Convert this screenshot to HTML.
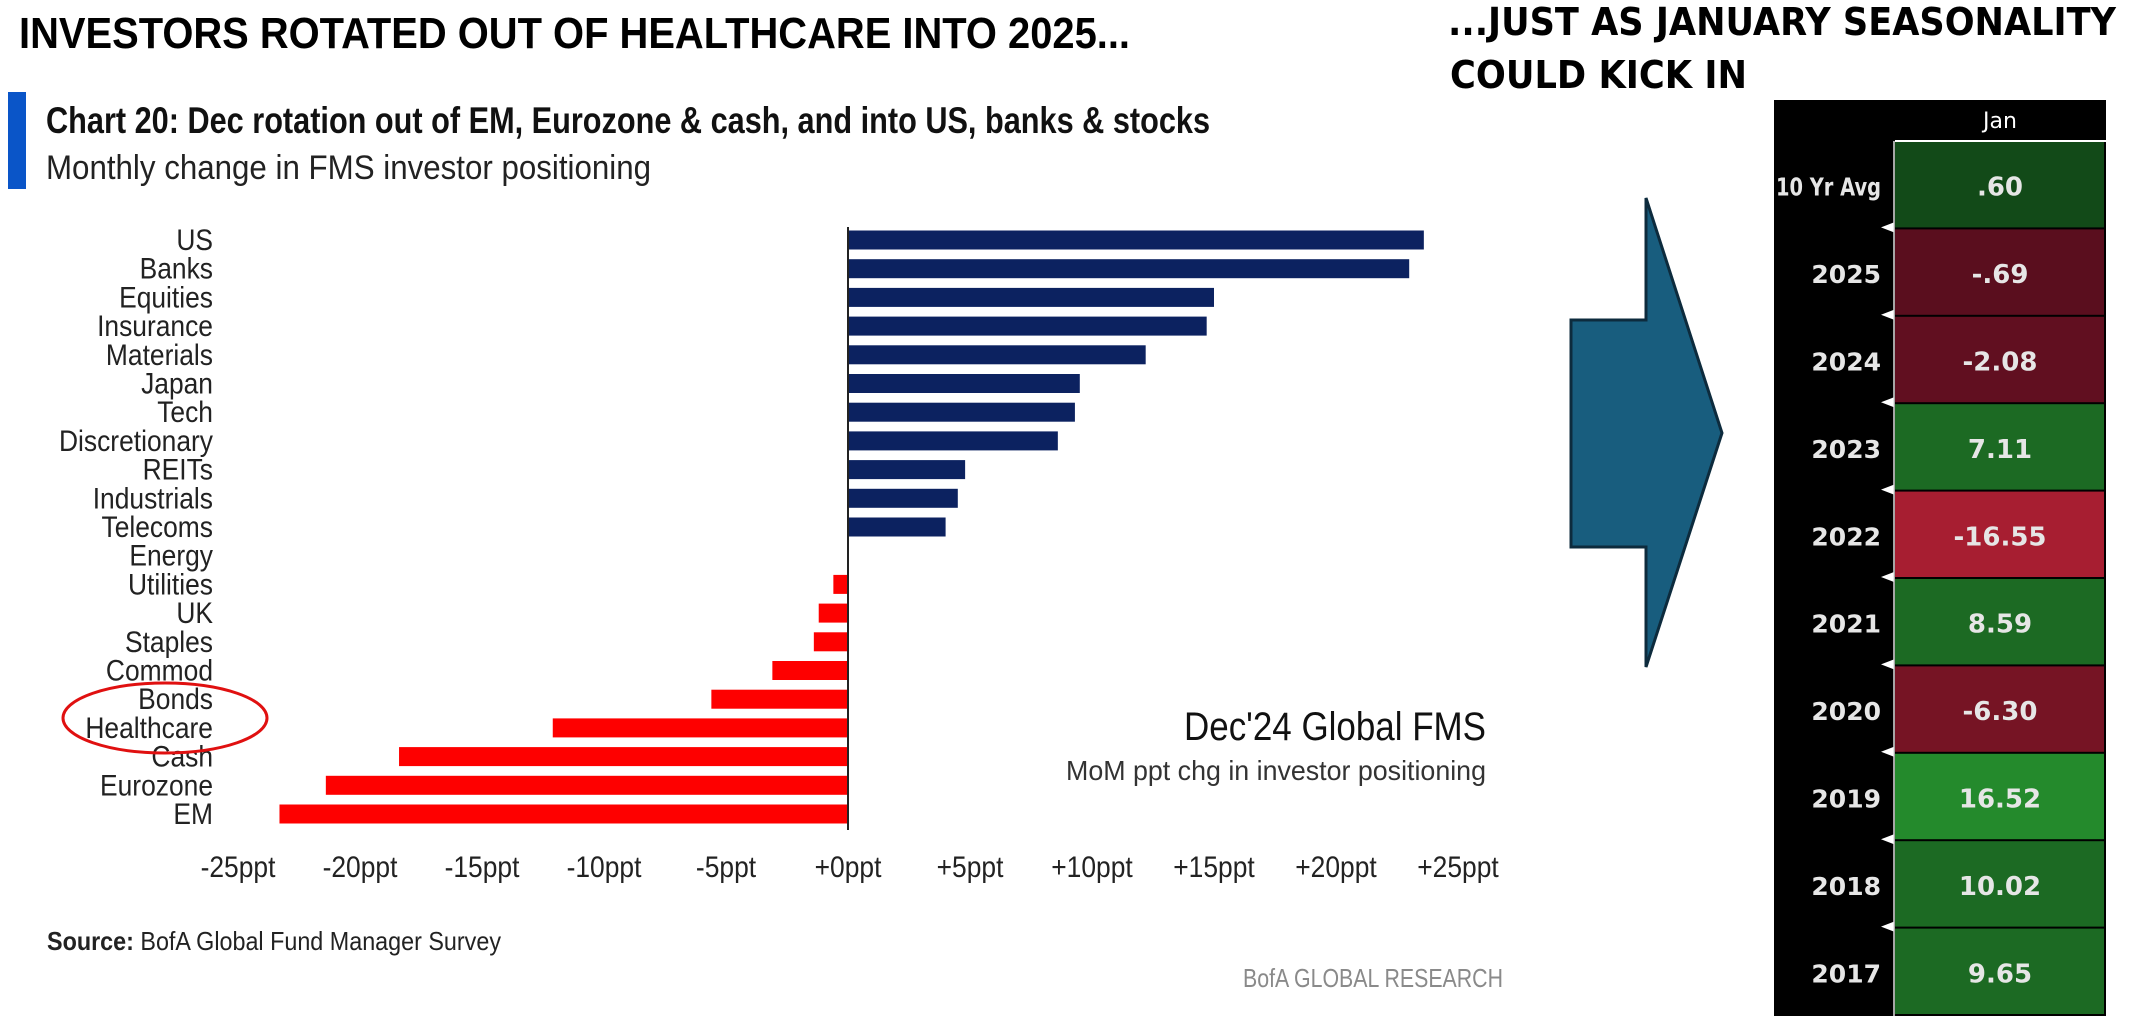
<!DOCTYPE html>
<html><head><meta charset="utf-8"><style>
html,body{margin:0;padding:0;background:#fff;width:2134px;height:1036px;overflow:hidden}
svg{display:block}
</style></head><body>
<svg id="s" width="2134" height="1036" viewBox="0 0 2134 1036" xmlns="http://www.w3.org/2000/svg">
<text x="19" y="48" font-family="Liberation Sans, sans-serif" font-weight="bold" font-size="44" textLength="1111" lengthAdjust="spacingAndGlyphs" fill="#000">INVESTORS ROTATED OUT OF HEALTHCARE INTO 2025...</text>
<text x="1448" y="35" font-family="DejaVu Sans, sans-serif" font-weight="bold" font-size="38" textLength="668" lengthAdjust="spacingAndGlyphs" fill="#000">...JUST AS JANUARY SEASONALITY</text>
<text x="1450" y="88" font-family="DejaVu Sans, sans-serif" font-weight="bold" font-size="38" textLength="297" lengthAdjust="spacingAndGlyphs" fill="#000">COULD KICK IN</text>
<rect x="8" y="92" width="18" height="97" fill="#0a55c8"/>
<text x="46" y="133" font-family="Liberation Sans, sans-serif" font-weight="bold" font-size="37" textLength="1164" lengthAdjust="spacingAndGlyphs" fill="#111">Chart 20: Dec rotation out of EM, Eurozone &amp; cash, and into US, banks &amp; stocks</text>
<text x="46" y="179" font-family="Liberation Sans, sans-serif" font-size="34" textLength="605" lengthAdjust="spacingAndGlyphs" fill="#222">Monthly change in FMS investor positioning</text>
<g id="chart"></g>
<ellipse cx="165" cy="718" rx="102" ry="35" fill="none" stroke="#e01010" stroke-width="3"/>
<text x="1486" y="740" text-anchor="end" font-family="Liberation Sans, sans-serif" font-size="40" textLength="302" lengthAdjust="spacingAndGlyphs" fill="#111">Dec'24 Global FMS</text>
<text x="1486" y="780" text-anchor="end" font-family="Liberation Sans, sans-serif" font-size="28" textLength="420" lengthAdjust="spacingAndGlyphs" fill="#333">MoM ppt chg in investor positioning</text>
<text x="47" y="950" font-family="Liberation Sans, sans-serif" font-size="26" textLength="454" lengthAdjust="spacingAndGlyphs" fill="#222"><tspan font-weight="bold">Source:</tspan> BofA Global Fund Manager Survey</text>
<text x="1503" y="987" text-anchor="end" font-family="Liberation Sans, sans-serif" font-size="26" textLength="260" lengthAdjust="spacingAndGlyphs" fill="#8a8a8a">BofA GLOBAL RESEARCH</text>
<polygon points="1571,320 1646,320 1646,198 1722,433 1646,667 1646,547 1571,547" fill="#185d7e" stroke="#0d2b3d" stroke-width="3"/>
<g id="table"></g>
</svg>
<script>
const categories = ["US","Banks","Equities","Insurance","Materials","Japan","Tech","Discretionary","REITs","Industrials","Telecoms","Energy","Utilities","UK","Staples","Commod","Bonds","Healthcare","Cash","Eurozone","EM"];
const values = [23.6,23.0,15.0,14.7,12.2,9.5,9.3,8.6,4.8,4.5,4.0,0,-0.6,-1.2,-1.4,-3.1,-5.6,-12.1,-18.4,-21.4,-23.3];
const ticks = [-25,-20,-15,-10,-5,0,5,10,15,20,25];
const tickLabels = ["-25ppt","-20ppt","-15ppt","-10ppt","-5ppt","+0ppt","+5ppt","+10ppt","+15ppt","+20ppt","+25ppt"];

const rowLabels = ["10 Yr Avg","2025","2024","2023","2022","2021","2020","2019","2018","2017"];
const rowValues = [0.60,-0.69,-2.08,7.11,-16.55,8.59,-6.30,16.52,10.02,9.65];
const rowTexts = [".60","-.69","-2.08","7.11","-16.55","8.59","-6.30","16.52","10.02","9.65"];

const NS = "http://www.w3.org/2000/svg";
function mk(tag, attrs, parent){const e=document.createElementNS(NS,tag);for(const k in attrs)e.setAttribute(k,attrs[k]);parent.appendChild(e);return e;}
const x = v => 848 + v*24.4;
const y = i => 240 + i*28.7;
const chart = document.getElementById("chart");
categories.forEach((c,i)=>{
  const v = values[i];
  if (v !== 0) {
    const r = mk("rect",{x:Math.min(x(0),x(v)),y:y(i)-9.5,width:Math.abs(x(v)-x(0)),height:19,fill:v>0?"#0c2260":"#fe0000"},chart);
    
    
  }
  const t = mk("text",{transform:`translate(213,${y(i)+10}) scale(0.88,1)`,"text-anchor":"end","font-family":"Liberation Sans, sans-serif","font-size":"30",fill:"#222"},chart);
  t.textContent = c;
  
  
});
const ax = mk("line",{x1:x(0),x2:x(0),y1:227,y2:830,stroke:"#222","stroke-width":2},chart);


ticks.forEach((t,i)=>{
  const e = mk("text",{transform:`translate(${x(t)},877) scale(0.88,1)`,"text-anchor":"middle","font-family":"Liberation Sans, sans-serif","font-size":"30",fill:"#222"},chart);
  e.textContent = tickLabels[i];
  
  
});

const tb = document.getElementById("table");
const bg = mk("rect",{x:1774,y:100,width:332,height:916,fill:"#000"},tb);


const hdr = mk("text",{x:2000,y:128,"text-anchor":"middle","font-family":"DejaVu Sans, sans-serif","font-size":"22",fill:"#fff"},tb);
hdr.textContent = "Jan";


const hl = mk("line",{x1:1895,x2:2106,y1:141,y2:141,stroke:"#fff","stroke-width":2},tb);


function cellColor(v){
  if (v < -10) return "#a71e31";
  if (v < -4) return "#761424";
  if (v < -1.5) return "#610f20";
  if (v < 0) return "#5a0e1e";
  if (v < 2) return "#124a18";
  if (v < 12) return "#1c6a23";
  return "#248a2c";
}
const top0 = 142, rh = 87.4;
rowLabels.forEach((lab,i)=>{
  const yy = top0 + i*rh;
  const c = mk("rect",{x:1895,y:yy,width:209,height:rh-2,fill:cellColor(rowValues[i])},tb);
  
  
  const v = mk("text",{x:2000,y:yy+rh/2+10,"text-anchor":"middle","font-family":"DejaVu Sans, sans-serif","font-weight":"bold","font-size":"26",fill:"#e6e6e6"},tb);
  v.textContent = rowTexts[i];
  
  
  const la = {x:1881,y:yy+rh/2+10,"text-anchor":"end","font-family":"DejaVu Sans, sans-serif","font-weight":"bold","font-size":"25",fill:"#e6e6e6"};
  if (lab.length > 5) { la.textLength = 105; la.lengthAdjust = "spacingAndGlyphs"; }
  const l = mk("text",la,tb);
  l.textContent = lab;
  
  
  if (i > 0) {
    const tri = mk("polygon",{points:`1881,${yy-2} 1894,${yy-7} 1894,${yy+3}`,fill:"#fff"},tb);
    
    
  }
});
const vl = mk("line",{x1:1894,x2:1894,y1:141,y2:1016,stroke:"#ddd","stroke-width":1.5},tb);


</script>
</body></html>
